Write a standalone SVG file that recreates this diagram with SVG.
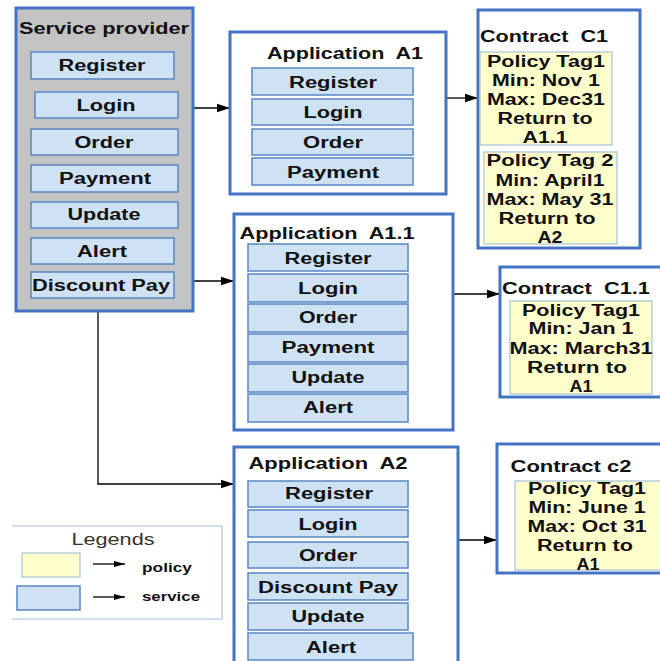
<svg xmlns="http://www.w3.org/2000/svg" width="660" height="661" viewBox="0 0 660 661">
<style>
.outer{fill:#ffffff;stroke:#4472c4;stroke-width:3}
.sp{fill:#c3c3c3;stroke:#4472c4;stroke-width:3}
.svc{fill:#cfe2f3;stroke:#5a86c4;stroke-width:1.5}
.pol{fill:#ffffcc;stroke:#a8c2d8;stroke-width:1.2}
text{font-family:"Liberation Sans",Arial,sans-serif;font-weight:bold;font-size:16px;fill:#111;text-anchor:middle}
.pre{white-space:pre}
.lg{font-weight:normal;fill:#333}
.conn{stroke:#000;stroke-width:1.3;fill:none}
</style>
<defs>
<marker id="ah" markerUnits="userSpaceOnUse" markerWidth="14" markerHeight="10" refX="13" refY="5" orient="auto">
<path d="M0,0.8 L13,5 L0,9.2 Z" fill="#000"/>
</marker>
<marker id="ahs" markerUnits="userSpaceOnUse" markerWidth="12" markerHeight="8" refX="11" refY="4" orient="auto">
<path d="M0,1 L11,4 L0,7 Z" fill="#000"/>
</marker>
</defs>

<g id="connectors">
<line class="conn" x1="193" y1="108" x2="230" y2="108" marker-end="url(#ah)"/>
<line class="conn" x1="193" y1="281" x2="234" y2="281" marker-end="url(#ah)"/>
<polyline class="conn" points="98,311 98,484 234,484" marker-end="url(#ah)"/>
<line class="conn" x1="446" y1="98" x2="478" y2="98" marker-end="url(#ah)"/>
<line class="conn" x1="453" y1="294" x2="500" y2="294" marker-end="url(#ah)"/>
<line class="conn" x1="458" y1="540" x2="497" y2="540" marker-end="url(#ah)"/>
</g>

<g id="service-provider">
<rect class="sp" x="16" y="8" width="177" height="303"/>
<text x="104" y="34" textLength="170" lengthAdjust="spacingAndGlyphs">Service provider</text>
<rect class="svc" x="31" y="52" width="143" height="27"/>
<text x="102" y="71" textLength="87" lengthAdjust="spacingAndGlyphs">Register</text>
<rect class="svc" x="35" y="92" width="143" height="26"/>
<text x="106" y="111" textLength="59" lengthAdjust="spacingAndGlyphs">Login</text>
<rect class="svc" x="31" y="129" width="147" height="26"/>
<text x="104" y="148" textLength="59" lengthAdjust="spacingAndGlyphs">Order</text>
<rect class="svc" x="31" y="165" width="147" height="27"/>
<text x="105" y="184" textLength="92" lengthAdjust="spacingAndGlyphs">Payment</text>
<rect class="svc" x="31" y="202" width="147" height="26"/>
<text x="104" y="220" textLength="73" lengthAdjust="spacingAndGlyphs">Update</text>
<rect class="svc" x="31" y="238" width="143" height="26"/>
<text x="102" y="257" textLength="50" lengthAdjust="spacingAndGlyphs">Alert</text>
<rect class="svc" x="31" y="272" width="143" height="26"/>
<text x="101" y="291" textLength="138" lengthAdjust="spacingAndGlyphs">Discount Pay</text>
</g>

<g id="app-a1">
<rect class="outer" x="230" y="32" width="216" height="162"/>
<text class="pre" x="345" y="59" textLength="156" lengthAdjust="spacingAndGlyphs">Application  A1</text>
<rect class="svc" x="252" y="68" width="161" height="27"/>
<text x="333" y="88" textLength="88" lengthAdjust="spacingAndGlyphs">Register</text>
<rect class="svc" x="252" y="99" width="161" height="26"/>
<text x="333" y="118" textLength="59" lengthAdjust="spacingAndGlyphs">Login</text>
<rect class="svc" x="252" y="129" width="161" height="26"/>
<text x="333" y="148" textLength="60" lengthAdjust="spacingAndGlyphs">Order</text>
<rect class="svc" x="252" y="158" width="161" height="27"/>
<text x="333" y="178" textLength="92" lengthAdjust="spacingAndGlyphs">Payment</text>
</g>

<g id="app-a1-1">
<rect class="outer" x="234" y="214" width="219" height="216"/>
<text class="pre" x="327" y="239" textLength="175" lengthAdjust="spacingAndGlyphs">Application  A1.1</text>
<rect class="svc" x="248" y="244" width="160" height="27"/>
<text x="328" y="264" textLength="87" lengthAdjust="spacingAndGlyphs">Register</text>
<rect class="svc" x="248" y="274" width="160" height="28"/>
<text x="328" y="294" textLength="60" lengthAdjust="spacingAndGlyphs">Login</text>
<rect class="svc" x="248" y="304" width="160" height="28"/>
<text x="328" y="323" textLength="58" lengthAdjust="spacingAndGlyphs">Order</text>
<rect class="svc" x="248" y="334" width="160" height="28"/>
<text x="328" y="353" textLength="93" lengthAdjust="spacingAndGlyphs">Payment</text>
<rect class="svc" x="248" y="364" width="160" height="28"/>
<text x="328" y="383" textLength="73" lengthAdjust="spacingAndGlyphs">Update</text>
<rect class="svc" x="248" y="394" width="160" height="28"/>
<text x="328" y="413" textLength="50" lengthAdjust="spacingAndGlyphs">Alert</text>
</g>

<g id="app-a2">
<rect class="outer" x="234" y="447" width="224" height="225"/>
<text class="pre" x="328" y="469" textLength="159" lengthAdjust="spacingAndGlyphs">Application  A2</text>
<rect class="svc" x="248" y="481" width="160" height="26"/>
<text x="329" y="499" textLength="88" lengthAdjust="spacingAndGlyphs">Register</text>
<rect class="svc" x="248" y="510" width="160" height="27"/>
<text x="328" y="530" textLength="59" lengthAdjust="spacingAndGlyphs">Login</text>
<rect class="svc" x="248" y="542" width="160" height="26"/>
<text x="328" y="561" textLength="58" lengthAdjust="spacingAndGlyphs">Order</text>
<rect class="svc" x="248" y="573" width="160" height="27"/>
<text x="328" y="593" textLength="140" lengthAdjust="spacingAndGlyphs">Discount Pay</text>
<rect class="svc" x="248" y="603" width="160" height="27"/>
<text x="328" y="622" textLength="73" lengthAdjust="spacingAndGlyphs">Update</text>
<rect class="svc" x="248" y="633" width="165" height="27"/>
<text x="331" y="653" textLength="50" lengthAdjust="spacingAndGlyphs">Alert</text>
</g>

<g id="contract-c1">
<rect class="outer" x="478" y="10" width="162" height="238"/>
<text class="pre" x="544" y="42" textLength="128" lengthAdjust="spacingAndGlyphs">Contract  C1</text>
<rect class="pol" x="480" y="52" width="132" height="93"/>
<text x="546" y="67" textLength="118" lengthAdjust="spacingAndGlyphs">Policy Tag1</text>
<text x="546" y="86" textLength="108" lengthAdjust="spacingAndGlyphs">Min: Nov 1</text>
<text x="546" y="105" textLength="118" lengthAdjust="spacingAndGlyphs">Max: Dec31</text>
<text x="545" y="124" textLength="95" lengthAdjust="spacingAndGlyphs">Return to</text>
<text x="545" y="143" textLength="45" lengthAdjust="spacingAndGlyphs">A1.1</text>
<rect class="pol" x="484" y="152" width="133" height="92"/>
<text x="550" y="166" textLength="127" lengthAdjust="spacingAndGlyphs">Policy Tag 2</text>
<text x="550" y="186" textLength="109" lengthAdjust="spacingAndGlyphs">Min: April1</text>
<text x="550" y="205" textLength="127" lengthAdjust="spacingAndGlyphs">Max: May 31</text>
<text x="547" y="224" textLength="97" lengthAdjust="spacingAndGlyphs">Return to</text>
<text x="550" y="243" textLength="25" lengthAdjust="spacingAndGlyphs">A2</text>
</g>

<g id="contract-c1-1">
<rect class="outer" x="500" y="267" width="165" height="130"/>
<text class="pre" x="576" y="294" textLength="148" lengthAdjust="spacingAndGlyphs">Contract  C1.1</text>
<rect class="pol" x="510" y="301" width="142" height="93"/>
<text x="581" y="316" textLength="118" lengthAdjust="spacingAndGlyphs">Policy Tag1</text>
<text x="581" y="334" textLength="105" lengthAdjust="spacingAndGlyphs">Min: Jan 1</text>
<text x="581" y="354" textLength="143" lengthAdjust="spacingAndGlyphs">Max: March31</text>
<text x="577" y="373" textLength="100" lengthAdjust="spacingAndGlyphs">Return to</text>
<text x="581" y="392" textLength="23" lengthAdjust="spacingAndGlyphs">A1</text>
</g>

<g id="contract-c2">
<rect class="outer" x="497" y="444" width="168" height="129"/>
<text x="571" y="472" textLength="121" lengthAdjust="spacingAndGlyphs">Contract c2</text>
<rect class="pol" x="515" y="481" width="150" height="89"/>
<text x="587" y="494" textLength="118" lengthAdjust="spacingAndGlyphs">Policy Tag1</text>
<text x="587" y="513" textLength="117" lengthAdjust="spacingAndGlyphs">Min: June 1</text>
<text x="587" y="532" textLength="119" lengthAdjust="spacingAndGlyphs">Max: Oct 31</text>
<text x="585" y="551" textLength="96" lengthAdjust="spacingAndGlyphs">Return to</text>
<text x="588" y="570" textLength="23" lengthAdjust="spacingAndGlyphs">A1</text>
</g>

<g id="legend">
<path d="M12,526 H222 V619 H12" fill="#fff" stroke="#a8c0e0" stroke-width="1.2"/>
<text class="lg" x="113" y="545" textLength="83" lengthAdjust="spacingAndGlyphs">Legends</text>
<rect class="pol" x="22" y="553" width="58" height="24"/>
<line class="conn" x1="93" y1="564" x2="125" y2="564" stroke-width="1" marker-end="url(#ahs)"/>
<text x="167" y="572" style="font-size:13px" textLength="50" lengthAdjust="spacingAndGlyphs">policy</text>
<rect class="svc" x="17" y="586" width="63" height="24"/>
<line class="conn" x1="93" y1="597" x2="125" y2="597" stroke-width="1" marker-end="url(#ahs)"/>
<text x="171" y="601" style="font-size:13px" textLength="58" lengthAdjust="spacingAndGlyphs">service</text>
</g>
</svg>
